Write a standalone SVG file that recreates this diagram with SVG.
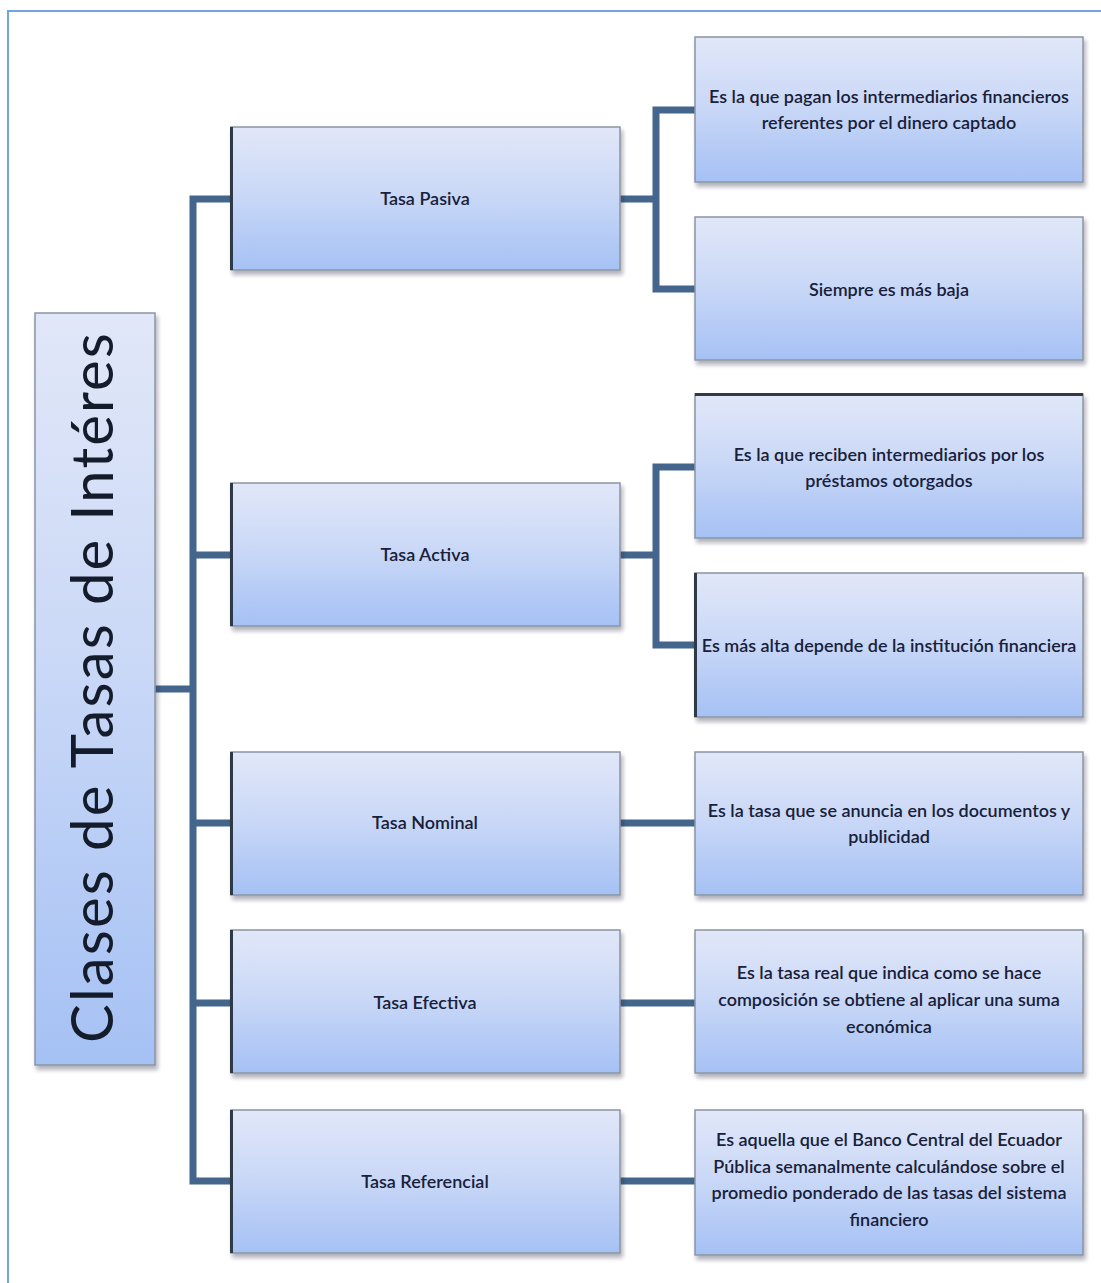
<svg xmlns="http://www.w3.org/2000/svg" width="1101" height="1283" viewBox="0 0 1101 1283">
  <defs>
    <linearGradient id="boxFill" x1="0" y1="0" x2="0" y2="1">
      <stop offset="0" stop-color="#e1e7f8"/>
      <stop offset="0.45" stop-color="#cbd9f7"/>
      <stop offset="1" stop-color="#a5c1f4"/>
    </linearGradient>
    <linearGradient id="rootFill" x1="0" y1="0" x2="0" y2="1">
      <stop offset="0" stop-color="#dbe5f8"/>
      <stop offset="1" stop-color="#a9c4f3"/>
    </linearGradient>
    <filter id="shadow" x="-5%" y="-5%" width="112%" height="118%">
      <feDropShadow dx="2" dy="4" stdDeviation="2.2" flood-color="#1a2030" flood-opacity="0.35"/>
    </filter>
  </defs>
  <style>
    .box { fill: url(#boxFill); stroke: #8a95a3; stroke-width: 1.5; filter: url(#shadow); }
    .edge { stroke: #2f3a47; stroke-width: 3; }
    .link { fill: none; stroke: #44658c; stroke-width: 7; stroke-linejoin: miter; }
    .lbl { font-family: Lato, "Open Sans", "Liberation Sans", sans-serif; font-size: 18px; fill: #18203a; text-anchor: middle; font-weight: 600; }
    .root { font-family: Lato, "Open Sans", "Liberation Sans", sans-serif; font-size: 58px; fill: #141b2b; text-anchor: middle; }
  </style>

  <rect width="1101" height="1283" fill="#ffffff"/>
  <!-- page frame -->
  <path d="M8 1283 V11 H1101" fill="none" stroke="#6fa6de" stroke-width="2"/>

  <!-- connectors -->
  <g id="connectors">
    <path class="link" d="M155 689 H193"/>
    <path class="link" d="M231 199 H193 V1181 H231"/>
    <path class="link" d="M193 555 H231"/>
    <path class="link" d="M193 823 H231"/>
    <path class="link" d="M193 1003 H231"/>
    <path class="link" d="M620 199 H656"/>
    <path class="link" d="M695 110 H656 V289 H695"/>
    <path class="link" d="M620 555 H656"/>
    <path class="link" d="M695 467 H656 V645 H695"/>
    <path class="link" d="M620 823 H695"/>
    <path class="link" d="M620 1003 H695"/>
    <path class="link" d="M620 1181 H695"/>
  </g>

  <!-- root -->
  <g id="root">
    <rect class="box" x="35" y="313" width="120" height="752" fill="url(#rootFill)"/>
    <text class="root" transform="translate(113,688) rotate(-90)" textLength="710" lengthAdjust="spacing">Clases de Tasas de Intéres</text>
  </g>

  <!-- first level -->
  <g id="tasa-pasiva">
    <rect class="box" x="231" y="127" width="389" height="143"/>
    <line class="edge" x1="231.5" y1="127" x2="231.5" y2="270"/>
    <text class="lbl" x="425" y="205">Tasa Pasiva</text>
  </g>
  <g id="tasa-activa">
    <rect class="box" x="231" y="483" width="389" height="143"/>
    <line class="edge" x1="231.5" y1="483" x2="231.5" y2="626"/>
    <text class="lbl" x="425" y="561">Tasa Activa</text>
  </g>
  <g id="tasa-nominal">
    <rect class="box" x="231" y="752" width="389" height="143"/>
    <line class="edge" x1="231.5" y1="752" x2="231.5" y2="895"/>
    <text class="lbl" x="425" y="829">Tasa Nominal</text>
  </g>
  <g id="tasa-efectiva">
    <rect class="box" x="231" y="930" width="389" height="143"/>
    <line class="edge" x1="231.5" y1="930" x2="231.5" y2="1073"/>
    <text class="lbl" x="425" y="1009">Tasa Efectiva</text>
  </g>
  <g id="tasa-referencial">
    <rect class="box" x="231" y="1110" width="389" height="143"/>
    <line class="edge" x1="231.5" y1="1110" x2="231.5" y2="1253"/>
    <text class="lbl" x="425" y="1188">Tasa Referencial</text>
  </g>

  <!-- second level -->
  <g id="pasiva-def">
    <rect class="box" x="695" y="37" width="388" height="145"/>
    <text class="lbl" x="889" y="103">Es la que pagan los intermediarios financieros</text>
    <text class="lbl" x="889" y="129">referentes por el dinero captado</text>
  </g>
  <g id="pasiva-nivel">
    <rect class="box" x="695" y="217" width="388" height="143"/>
    <text class="lbl" x="889" y="296">Siempre es más baja</text>
  </g>
  <g id="activa-def">
    <rect class="box" x="695" y="394" width="388" height="144"/>
    <line class="edge" x1="695" y1="394.5" x2="1083" y2="394.5"/>
    <text class="lbl" x="889" y="461">Es la que reciben intermediarios por los</text>
    <text class="lbl" x="889" y="487">préstamos otorgados</text>
  </g>
  <g id="activa-nivel">
    <rect class="box" x="695" y="573" width="388" height="144"/>
    <line class="edge" x1="695.5" y1="573" x2="695.5" y2="717"/>
    <text class="lbl" x="889" y="652">Es más alta depende  de la institución financiera</text>
  </g>
  <g id="nominal-def">
    <rect class="box" x="695" y="752" width="388" height="143"/>
    <text class="lbl" x="889" y="817">Es la tasa que se anuncia en los documentos  y</text>
    <text class="lbl" x="889" y="843">publicidad</text>
  </g>
  <g id="efectiva-def">
    <rect class="box" x="695" y="930" width="388" height="143"/>
    <text class="lbl" x="889" y="979">Es la tasa real que indica como se hace</text>
    <text class="lbl" x="889" y="1006">composición se obtiene al aplicar una suma</text>
    <text class="lbl" x="889" y="1033">económica</text>
  </g>
  <g id="referencial-def">
    <rect class="box" x="695" y="1110" width="388" height="145"/>
    <text class="lbl" x="889" y="1146">Es aquella que el Banco Central del Ecuador</text>
    <text class="lbl" x="889" y="1173">Pública semanalmente calculándose sobre el</text>
    <text class="lbl" x="889" y="1199">promedio ponderado de las tasas del sistema</text>
    <text class="lbl" x="889" y="1226">financiero</text>
  </g>
</svg>
